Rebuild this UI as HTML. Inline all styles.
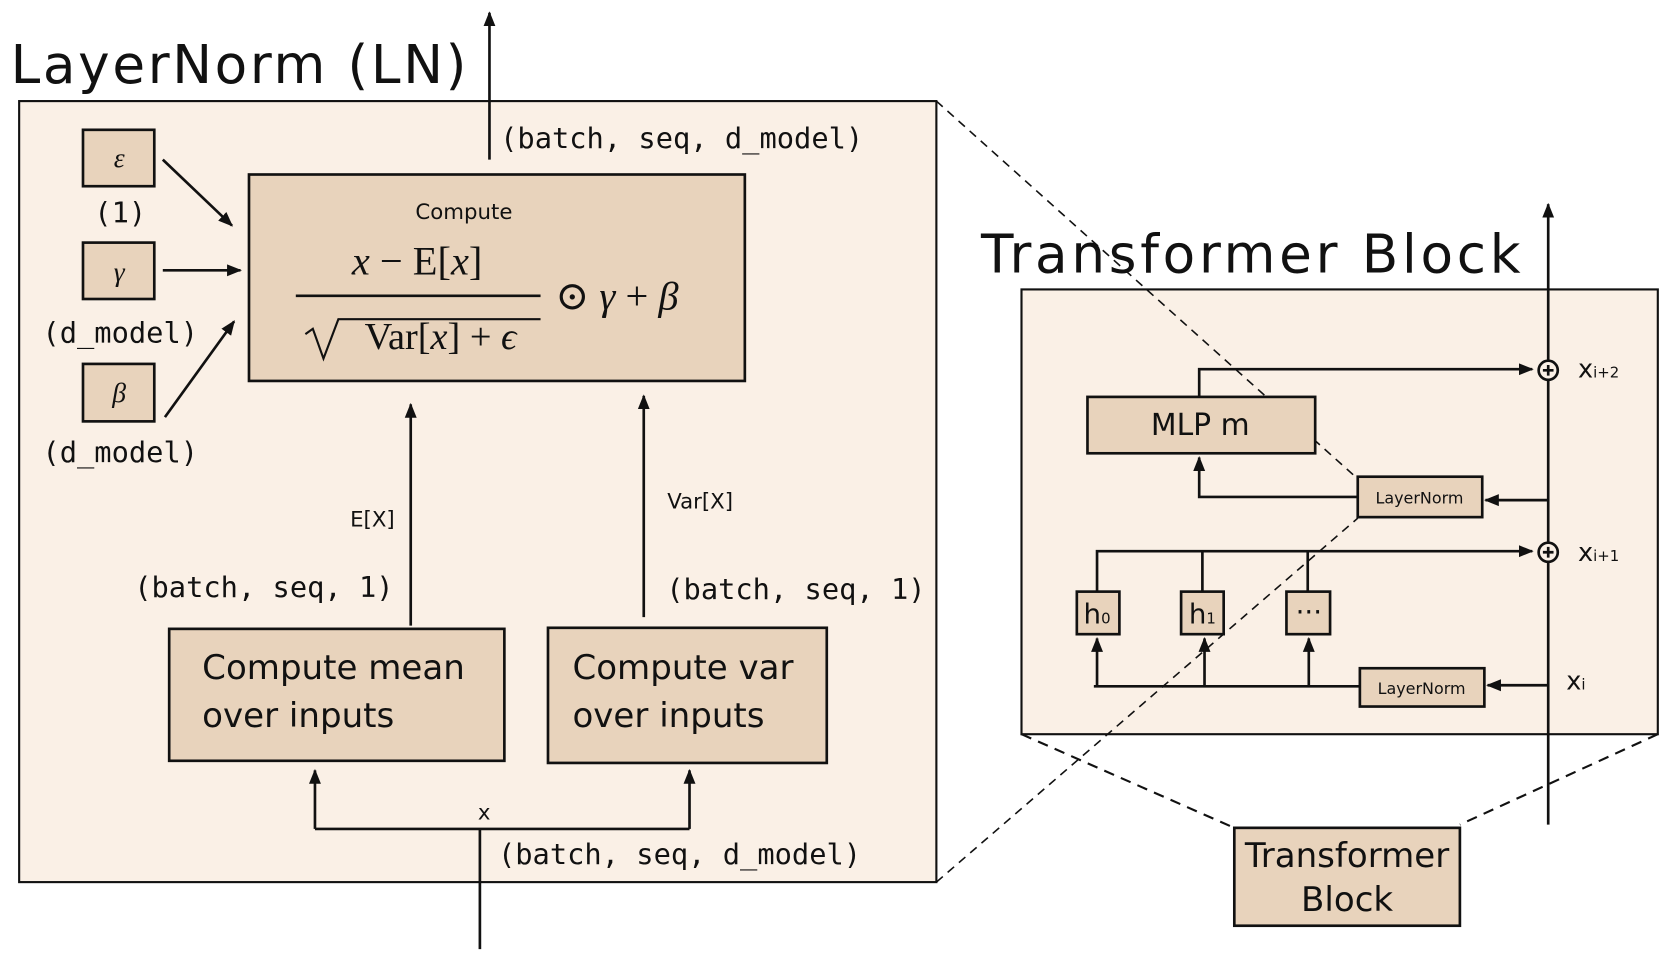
<!DOCTYPE html>
<html><head><meta charset="utf-8"><style>
html,body{margin:0;padding:0;background:#fff;}
svg{display:block;}
.h{font-family:"Comic Sans MS","DejaVu Sans","Liberation Sans",sans-serif;fill:#111;}
.m{font-family:"DejaVu Sans Mono","Liberation Mono",monospace;fill:#111;}
.s{font-family:"Liberation Serif","DejaVu Serif",serif;fill:#111;}
</style></head><body>
<svg width="1661" height="955" viewBox="0 0 1561 897.5" preserveAspectRatio="none" xmlns="http://www.w3.org/2000/svg">
<defs>
<marker id="b" viewBox="0 0 10 10" refX="9" refY="5" markerWidth="14" markerHeight="14" orient="auto" markerUnits="userSpaceOnUse"><path d="M0,1 L10,5 L0,9 z" fill="#111"/></marker>
</defs>
<g stroke="#111" stroke-width="2" fill="none">
<rect x="18" y="95" width="862" height="734" fill="#faf0e6"/>
<rect x="960" y="272" width="598" height="418" fill="#faf0e6"/>
</g>
<text x="10" y="78" class="h" font-size="50" letter-spacing="2.5">LayerNorm (LN)</text>
<text x="922" y="256" class="h" font-size="50" letter-spacing="3.5">Transformer Block</text>
<g stroke="#111" stroke-width="2.5" fill="none">
<line x1="460" y1="150" x2="460" y2="12" marker-end="url(#b)"/>
<rect x="78" y="122" width="67" height="53" fill="#e8d3bc"/>
<rect x="78" y="228" width="67" height="53" fill="#e8d3bc"/>
<rect x="78" y="342" width="67" height="54" fill="#e8d3bc"/>
<line x1="153" y1="150" x2="218" y2="212" marker-end="url(#b)"/>
<line x1="153" y1="254" x2="226" y2="254" marker-end="url(#b)"/>
<line x1="155" y1="392" x2="220" y2="302" marker-end="url(#b)"/>
<rect x="234" y="164" width="466" height="194" fill="#e8d3bc"/>
<line x1="386" y1="588" x2="386" y2="380" marker-end="url(#b)"/>
<line x1="605" y1="580" x2="605" y2="372" marker-end="url(#b)"/>
<rect x="159" y="591" width="315" height="124" fill="#e8d3bc"/>
<rect x="515" y="590" width="262" height="127" fill="#e8d3bc"/>
<line x1="451" y1="892" x2="451" y2="779"/>
<polyline points="648,779 296,779"/>
<line x1="296" y1="779" x2="296" y2="724" marker-end="url(#b)"/>
<line x1="648" y1="779" x2="648" y2="724" marker-end="url(#b)"/>
</g>
<g stroke="#111" stroke-width="1.5" fill="none" stroke-dasharray="8,6">
<line x1="880" y1="95" x2="1276" y2="450"/>
<line x1="880" y1="829" x2="1276" y2="487"/>
</g>
<g stroke="#111" stroke-width="2" fill="none" stroke-dasharray="10,7">
<line x1="960" y1="690" x2="1160" y2="778"/>
<line x1="1558" y1="690" x2="1372" y2="775"/>
</g>
<text x="112" y="157" class="s" font-size="26" font-style="italic" text-anchor="middle">ε</text>
<text x="112" y="264" class="s" font-size="26" font-style="italic" text-anchor="middle">γ</text>
<text x="112" y="378" class="s" font-size="26" font-style="italic" text-anchor="middle">β</text>
<g class="m" font-size="27">
<text x="113" y="209" text-anchor="middle">(1)</text>
<text x="113" y="322" text-anchor="middle">(d_model)</text>
<text x="113" y="434" text-anchor="middle">(d_model)</text>
<text x="470" y="139">(batch, seq, d_model)</text>
<text x="248" y="561" text-anchor="middle">(batch, seq, 1)</text>
<text x="748" y="563" text-anchor="middle">(batch, seq, 1)</text>
<text x="468" y="812">(batch, seq, d_model)</text>
</g>
<text x="436" y="206" class="h" font-size="20" text-anchor="middle">Compute</text>
<text x="392" y="258" class="s" font-size="38" text-anchor="middle"><tspan font-style="italic">x</tspan> − E[<tspan font-style="italic">x</tspan>]</text>
<line x1="278" y1="278" x2="508" y2="278" stroke="#111" stroke-width="2.5"/>
<path d="M287,314 L294,309 L304,337 L318,300 L508,300" stroke="#111" stroke-width="2" fill="none"/>
<text x="414" y="328" class="s" font-size="36" text-anchor="middle">Var[<tspan font-style="italic">x</tspan>] + <tspan font-style="italic">ϵ</tspan></text>
<text x="522" y="291" class="s" font-size="38">⊙ <tspan font-style="italic">γ</tspan> + <tspan font-style="italic">β</tspan></text>
<text x="350" y="495" class="h" font-size="20" text-anchor="middle">E[X]</text>
<text x="658" y="478" class="h" font-size="20" text-anchor="middle">Var[X]</text>
<text x="190" y="638" class="h" font-size="32">Compute mean</text>
<text x="190" y="683" class="h" font-size="32">over inputs</text>
<text x="538" y="638" class="h" font-size="32">Compute var</text>
<text x="538" y="683" class="h" font-size="32">over inputs</text>
<text x="455" y="770" class="h" font-size="20" text-anchor="middle">x</text>
<g stroke="#111" stroke-width="2.5" fill="none">
<line x1="1455" y1="775" x2="1455" y2="192" marker-end="url(#b)"/>
<rect x="1022" y="373" width="214" height="53" fill="#e8d3bc"/>
<rect x="1276" y="448" width="117" height="38" fill="#e8d3bc"/>
<rect x="1278" y="628" width="117" height="36" fill="#e8d3bc"/>
<line x1="1455" y1="470" x2="1396" y2="470" marker-end="url(#b)"/>
<polyline points="1276,467 1127,467 1127,430" marker-end="url(#b)"/>
<polyline points="1127,373 1127,347 1440,347" marker-end="url(#b)"/>
<line x1="1455" y1="644" x2="1398" y2="644" marker-end="url(#b)"/>
<line x1="1278" y1="645" x2="1028" y2="645"/>
<line x1="1031" y1="645" x2="1031" y2="600" marker-end="url(#b)"/>
<line x1="1132" y1="645" x2="1132" y2="600" marker-end="url(#b)"/>
<line x1="1230" y1="645" x2="1230" y2="600" marker-end="url(#b)"/>
<rect x="1012" y="556" width="40" height="40" fill="#e8d3bc"/>
<rect x="1110" y="556" width="40" height="40" fill="#e8d3bc"/>
<rect x="1209" y="556" width="41" height="40" fill="#e8d3bc"/>
<polyline points="1031,556 1031,518 1440,518" marker-end="url(#b)"/>
<line x1="1130" y1="518" x2="1130" y2="556"/>
<line x1="1229" y1="518" x2="1229" y2="556"/>
<circle cx="1455" cy="348" r="9" fill="#faf0e6"/>
<circle cx="1455" cy="519" r="9" fill="#faf0e6"/>
<path d="M1450,348 h10 M1455,343 v10 M1450,519 h10 M1455,514 v10"/>
<rect x="1160" y="778" width="212" height="92" fill="#e8d3bc"/>
</g>
<text x="1128" y="409" class="h" font-size="28" text-anchor="middle">MLP m</text>
<text x="1334" y="473" class="h" font-size="15" text-anchor="middle">LayerNorm</text>
<text x="1336" y="652" class="h" font-size="15" text-anchor="middle">LayerNorm</text>
<text x="1031" y="586" class="h" font-size="26" text-anchor="middle">h<tspan font-size="14">0</tspan></text>
<text x="1130" y="586" class="h" font-size="26" text-anchor="middle">h<tspan font-size="14">1</tspan></text>
<text x="1230" y="584" class="h" font-size="26" text-anchor="middle">···</text>
<text x="1483" y="355" class="h" font-size="24">x<tspan font-size="14">i+2</tspan></text>
<text x="1483" y="527" class="h" font-size="24">x<tspan font-size="14">i+1</tspan></text>
<text x="1472" y="648" class="h" font-size="24">x<tspan font-size="14">i</tspan></text>
<text x="1266" y="815" class="h" font-size="32" text-anchor="middle">Transformer</text>
<text x="1266" y="856" class="h" font-size="32" text-anchor="middle">Block</text>
</svg>
</body></html>
